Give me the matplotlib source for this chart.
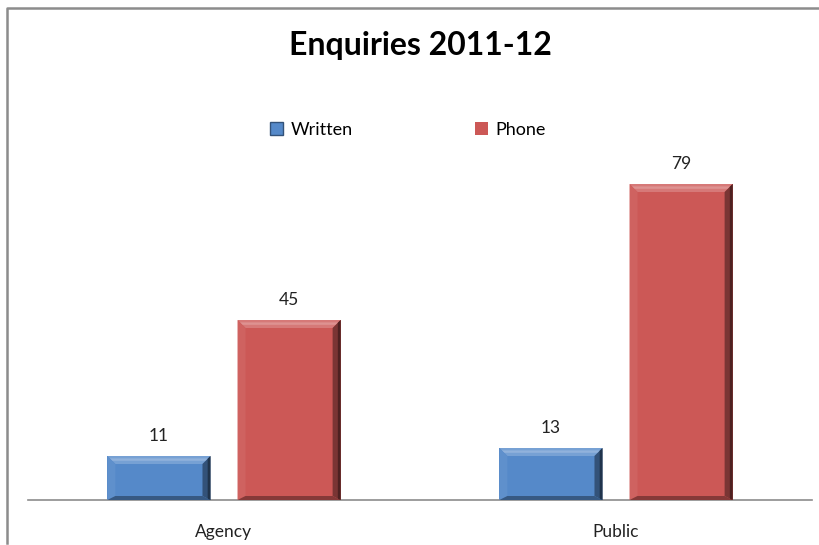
import matplotlib
matplotlib.use("Agg")
import matplotlib.pyplot as plt
from matplotlib.patches import Polygon, Patch
from matplotlib.lines import Line2D
import matplotlib.colors as mcolors
import numpy as np

categories = ["Agency", "Public"]
series_names = ["Written", "Phone"]
written = [11, 13]
phone = [45, 79]
title = "Enquiries 2011-12"

plt.rcParams['font.family'] = ['Lato', 'DejaVu Sans']

W, H = 820, 545
fig = plt.figure(figsize=(W/100, H/100), dpi=100)
fig.patch.set_facecolor("white")

# outer chart border (left and top visible, rest cropped)
fig.lines.append(Line2D([7.5/W, 7.5/W, 1.0], [2/H, 1 - 8/H, 1 - 8/H],
                        transform=fig.transFigure, color="#8c8c8c", lw=1.8))

ax = fig.add_axes([28/W, 45/H, 784/W, 360/H])
colors = ["#5589C9", "#CC5856"]
x = np.arange(len(categories))
offs = 0.166
bw = 0.263

bars_w = ax.bar(x - offs, written, width=bw, color=colors[0], zorder=2)
bars_p = ax.bar(x + offs, phone, width=bw, color=colors[1], zorder=2)

ax.set_xlim(-0.5, 1.5)
ax.set_ylim(0, 90)

def shade(c, f):
    r, g, b = mcolors.to_rgb(c)
    if f > 0:
        return (r + (1 - r) * f, g + (1 - g) * f, b + (1 - b) * f)
    f = -f
    return (r * (1 - f), g * (1 - f), b * (1 - f))

bx = 8/392
by = 8/4.0
for bars, col in ((bars_w, colors[0]), (bars_p, colors[1])):
    for b in bars:
        x0 = b.get_x(); x1 = x0 + b.get_width()
        y0 = 0; y1 = b.get_height()
        # top highlight
        ax.add_patch(Polygon([(x0, y1), (x1, y1), (x1 - bx, y1 - by), (x0 + bx, y1 - by)],
                             closed=True, facecolor=shade(col, 0.2), edgecolor='none', zorder=3))
        ax.add_patch(Polygon([(x0 + bx*0.3, y1 - by*0.3), (x1 - bx*0.3, y1 - by*0.3),
                              (x1 - bx*0.6, y1 - by*0.6), (x0 + bx*0.6, y1 - by*0.6)],
                             closed=True, facecolor=shade(col, 0.35), edgecolor='none', zorder=3))
        # left side
        ax.add_patch(Polygon([(x0, y1), (x0 + bx, y1 - by), (x0 + bx, y0 + by*0.5), (x0, y0)],
                             closed=True, facecolor=shade(col, 0.06), edgecolor='none', zorder=3))
        # right side dark
        ax.add_patch(Polygon([(x1, y1), (x1 - bx, y1 - by), (x1 - bx, y0 + by*0.5), (x1, y0)],
                             closed=True, facecolor=shade(col, -0.4), edgecolor='none', zorder=3))
        ax.add_patch(Polygon([(x1, y1), (x1 - bx*0.35, y1 - by*0.35), (x1 - bx*0.35, y0), (x1, y0)],
                             closed=True, facecolor=shade(col, -0.62), edgecolor='none', zorder=3))
        # bottom dark
        ax.add_patch(Polygon([(x0, y0), (x1, y0), (x1 - bx, y0 + by*0.5), (x0 + bx, y0 + by*0.5)],
                             closed=True, facecolor=shade(col, -0.35), edgecolor='none', zorder=3))
        ax.annotate(f"{int(b.get_height())}", (b.get_x() + b.get_width()/2, y1),
                    xytext=(0, 20), textcoords="offset pixels", ha="center", va="center",
                    fontsize=12.5, color="#222222")

for s in ["top", "right", "left"]:
    ax.spines[s].set_visible(False)
ax.spines["bottom"].set_color("#8c8c8c")
ax.spines["bottom"].set_linewidth(1.2)
ax.set_yticks([])
ax.set_xticks(x)
ax.set_xticklabels(categories, fontsize=12.5, color="#222222")
ax.tick_params(axis='x', length=0, pad=17)

fig.text(420/W, 1 - 46/H, title, ha="center", va="center", fontsize=23, fontweight="bold")

handles = [Patch(facecolor=colors[0], edgecolor=shade(colors[0], -0.4)),
           Patch(facecolor=colors[1], edgecolor='none')]
fig.legend(handles, series_names, loc="center", bbox_to_anchor=(408/W, 1 - 130/H),
           ncol=2, frameon=False, fontsize=13, handlelength=0.7, handleheight=0.7,
           handletextpad=0.4, columnspacing=6.8)

fig.savefig("out.png", dpi=100)
